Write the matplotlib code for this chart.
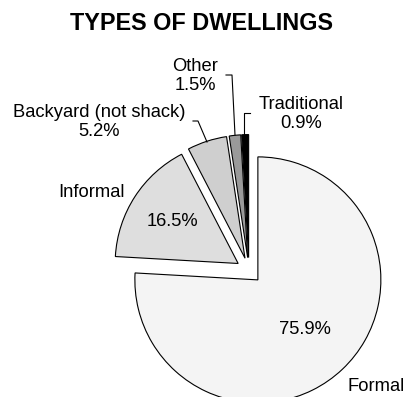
# Types of dwellings pie chart.
import matplotlib as mpl
mpl.use("Agg")
import matplotlib.pyplot as plt

plt.rcParams["font.family"] = ["Liberation Sans", "DejaVu Sans"]

# Data.
categories = ["Formal", "Informal", "Backyard (not shack)", "Other", "Traditional"]
shares = [75.9, 16.5, 5.2, 1.5, 0.9]
colors = ["#f4f4f4", "#dedede", "#cfcfcf", "#9a9a9a", "#000000"]

# Pixel geometry of the reference: pie centre and radius.
CX, CY, R = 249.0, 270.5, 123.0
W, H = 405, 397


def px(x, y):
  """Convert reference pixel coordinates to data units."""
  return (x - CX) / R, (CY - y) / R


fig = plt.figure(figsize=(W / 100, H / 100), dpi=100)
ax = fig.add_axes([0, 0, 1, 1])

wedges, _ = ax.pie(shares, colors=colors, explode=[0.105] * len(shares),
                   startangle=90, counterclock=False, radius=1,
                   wedgeprops=dict(edgecolor="black", linewidth=0.8))

ax.set_xlim(-CX / R, (W - CX) / R)
ax.set_ylim(-(H - CY) / R, CY / R)
ax.set_aspect("equal")
ax.axis("off")

fs = 13.2
pct = [f"{v:.1f}%" for v in shares]

# Title.
fig.text(201 / W, 1 - 24 / H, "TYPES OF DWELLINGS", ha="center", va="center",
         fontsize=16.8, fontweight="bold")

# Labels outside the pie.
def label(x, y, s):
  ax.text(*px(x, y), s, ha="center", va="center", fontsize=fs,
          linespacing=1.13)

label(99, 122, categories[2] + "\n" + pct[2])
label(195, 76, categories[3] + "\n" + pct[3])
label(301, 114, categories[4] + "\n" + pct[4])
label(92, 193, categories[1])
label(376, 387, categories[0])

# Percentages inside the two big slices.
label(172, 222, pct[1])
label(305, 330, pct[0])

# Leader lines.
leaders = [
  [(193, 121), (198, 121), (207, 142)],
  [(226, 75), (232, 75), (235, 135)],
  [(250, 113), (244, 113), (244, 135)],
]
for pts in leaders:
  xs, ys = zip(*[px(x, y) for x, y in pts])
  ax.plot(xs, ys, color="black", linewidth=0.8)

fig.savefig("out.png", dpi=100)
